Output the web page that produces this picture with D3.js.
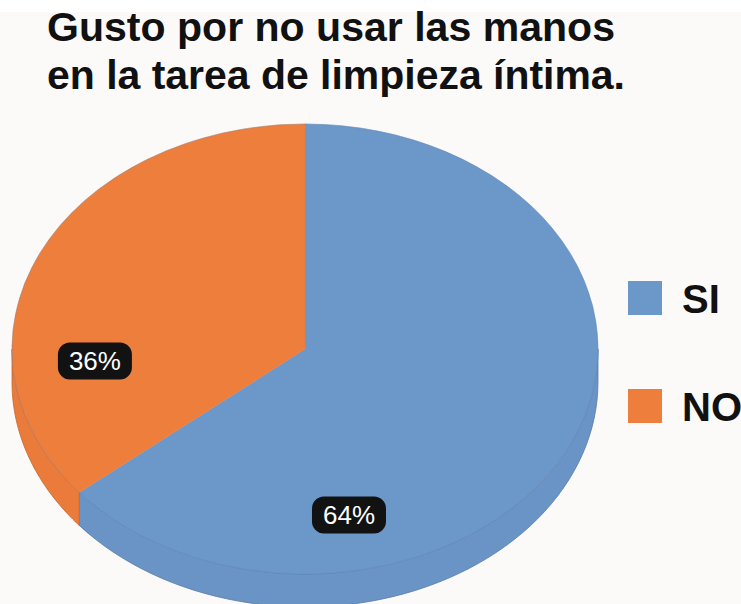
<!DOCTYPE html>
<meta charset="utf-8">
<script src="https://d3js.org/d3.v7.min.js"></script>
<style>
  body { margin: 0; background: #fbfaf9; }
  text { font-family: "Liberation Sans", Arial, sans-serif; }
</style>
<div id="my_dataviz"></div>
<script>

// data
var categories = ["SI", "NO"];
var values = [64, 36];
var labels = ["64%", "36%"];
var titleLines = ["Gusto por no usar las manos", "en la tarea de limpieza íntima."];

var width = 741, height = 604;

var svg = d3.select("#my_dataviz")
  .append("svg")
    .attr("width", width)
    .attr("height", height);

svg.append("rect").attr("width", width).attr("height", height).attr("fill", "#fbfaf9");
svg.append("rect").attr("width", width).attr("height", 12).attr("fill", "#ffffff");

// title
svg.append("g").selectAll("text")
  .data(titleLines)
  .enter()
  .append("text")
    .attr("x", 47)
    .attr("y", function(d, i) { return 41 + i * 48; })
    .attr("textLength", function(d, i) { return i == 0 ? 568 : 578; })
    .attr("lengthAdjust", "spacingAndGlyphs")
    .style("font-size", "41px")
    .style("font-weight", "bold")
    .style("fill", "#111")
    .text(function(d) { return d; });

// pie geometry (tilted ellipse with a bit of depth)
var cx = 305, cy = 349, rx = 293, ry = 225, depth = 33;

var color = d3.scaleOrdinal()
  .domain(categories)
  .range(["#6c97c9", "#ee7e3b"]);
var sideColor = d3.scaleOrdinal()
  .domain(categories)
  .range(["#6a94c6", "#ea7b3a"]);

var pie = d3.pie().sort(null).value(function(d) { return d.value; });
var arcs = pie(categories.map(function(c, i) { return {cat: c, value: values[i], label: labels[i]}; }));

function pt(a, dy) {
  return [cx + rx * Math.sin(a), cy - ry * Math.cos(a) + dy];
}

// side walls: only front half (angles between PI/2 and 3PI/2) is visible
var side = svg.append("g");
arcs.forEach(function(d) {
  var a0 = Math.max(d.startAngle, Math.PI / 2),
      a1 = Math.min(d.endAngle, 3 * Math.PI / 2);
  if (a1 <= a0) return;
  var steps = d3.range(0, 61).map(function(k) { return a0 + (a1 - a0) * k / 60; });
  var top = steps.map(function(a) { return pt(a, 0); });
  var bottom = steps.slice().reverse().map(function(a) { return pt(a, depth); });
  side.append("path")
    .attr("d", d3.line()(top.concat(bottom)) + "Z")
    .attr("fill", sideColor(d.data.cat))
    .attr("stroke", d3.color(sideColor(d.data.cat)).darker(0.5))
    .attr("stroke-width", 0.8);
});

// top face
var arc = d3.arc().innerRadius(0).outerRadius(rx);
svg.append("g")
    .attr("transform", "translate(" + cx + "," + cy + ") scale(1," + (ry / rx) + ")")
  .selectAll("path")
  .data(arcs)
  .enter()
  .append("path")
    .attr("d", arc)
    .attr("fill", function(d) { return color(d.data.cat); })
    .attr("stroke", function(d) { return color(d.data.cat); })
    .attr("stroke-width", 0.5);

// top face rim
svg.append("ellipse")
  .attr("cx", cx).attr("cy", cy).attr("rx", rx).attr("ry", ry)
  .attr("fill", "none")
  .attr("stroke", "#5e7fa8")
  .attr("stroke-opacity", 0.3)
  .attr("stroke-width", 1);

// data labels (pulled toward the front, like the original perspective)
var labelAngle = {"SI": 168.5, "NO": 265.75};
var labelRad = {"SI": 0.753, "NO": 0.719};
var lab = svg.append("g").selectAll("g")
  .data(arcs)
  .enter()
  .append("g")
    .attr("transform", function(d) {
      var a = labelAngle[d.data.cat] * Math.PI / 180, f = labelRad[d.data.cat];
      return "translate(" + (cx + f * rx * Math.sin(a)) + "," + (cy - f * ry * Math.cos(a)) + ")";
    });
lab.append("rect")
  .attr("x", -37).attr("y", -18.5)
  .attr("width", 74).attr("height", 37)
  .attr("rx", 12)
  .attr("fill", "#121212");
lab.append("text")
  .attr("text-anchor", "middle")
  .attr("dy", "0.36em")
  .style("font-size", "26px")
  .style("fill", "#ffffff")
  .text(function(d) { return d.data.label; });

// legend
var legend = svg.append("g").selectAll("g")
  .data(categories)
  .enter()
  .append("g")
    .attr("transform", function(d, i) { return "translate(628," + (281 + i * 108) + ")"; });
legend.append("rect")
  .attr("width", 34).attr("height", 34)
  .attr("fill", function(d) { return color(d); });
legend.append("text")
  .attr("x", 54).attr("y", 32)
  .style("font-size", "40px")
  .style("font-weight", "bold")
  .style("fill", "#111")
  .text(function(d) { return d; });

</script>
